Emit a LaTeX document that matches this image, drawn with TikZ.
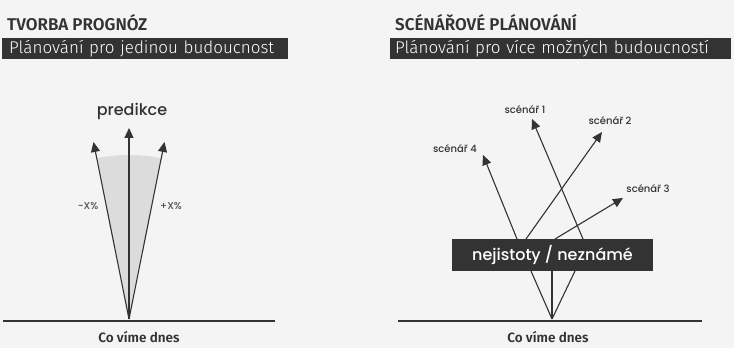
\documentclass[tikz,border=0pt]{standalone}
\usepackage{fontspec}
\usepackage{tikz}
\usetikzlibrary{arrows.meta,positioning}
\setmainfont{Fira Sans}
\newfontfamily\headfont{Fira Sans SemiBold}
\newfontfamily\thinfont{Fira Sans Light}
\newfontfamily\geofont{Poppins Medium}
\definecolor{paper}{RGB}{244,244,244}
\definecolor{ink}{RGB}{51,51,51}
\definecolor{fancol}{RGB}{220,220,220}

\begin{document}
\begin{tikzpicture}[x=1pt,y=1pt,>={Triangle[length=10pt,width=9pt]},
  line/.style={draw=ink,line width=1.1pt},
  heading/.style={anchor=west,inner sep=0pt,text=ink,font=\headfont\fontsize{17}{17}\selectfont},
  tagbox/.style={fill=ink,text=white,anchor=west,inner ysep=0pt,minimum height=21pt,
                 align=left,font=\thinfont\fontsize{17}{17}\selectfont},
  scen/.style={text=ink,inner sep=0pt,font=\geofont\fontsize{10}{10}\selectfont},
  base/.style={text=ink,inner sep=0pt,font=\headfont\fontsize{13.5}{13.5}\selectfont}]
  \fill[paper] (0,0) rectangle (734,348);
  \useasboundingbox (0,0) rectangle (734,348);

  % ---- left: forecasting
  \node[heading] (lhead) at (7,325) {TVORBA PROGNÓZ};
  \node[tagbox,text width=272pt,inner xsep=7pt] (ltag) at (2,299.5) {\mbox{Plánování pro jedinou budoucnost}};
  \coordinate (lo) at (129,29);
  \coordinate (lc) at (129,220);
  \coordinate (ll) at (93.5,206);
  \coordinate (lr) at (164.5,206);
  % the fan of tolerance
  \fill[fancol] (lo) -- ++(101.3:164) arc[start angle=101.3,end angle=78.7,radius=164] -- cycle;
  \foreach \t in {lc,ll,lr}
     \draw[line,->] (lo) -- (\t);
  \node[text=ink,inner sep=0pt,font=\geofont\fontsize{16}{16}\selectfont] (pred) at (132,237) {predikce};
  \node[scen,text=ink!85] (minus) at (88,142) {-X\%};
  \node[scen,text=ink!85] (plus) at (171,142) {+X\%};
  \coordinate (lbl) at (3,27);
  \coordinate (lbr) at (275,27);
  \draw[line] (lbl) -- (lbr);
  \node[base] (lnow) at (139,11) {Co víme dnes};

  % ---- right: scenario planning
  \node[heading] (rhead) at (395,325) {SCÉNÁŘOVÉ PLÁNOVÁNÍ};
  \node[tagbox,text width=331pt,inner xsep=5pt] (rtag) at (390,299.5) {\mbox{Plánování pro více možných budoucností}};
  \coordinate (ro) at (552,29);
  % the three rays under the box
  \foreach \x in {531,552,575}
     \draw[line] (ro) -- (\x,77);
  \node[fill=ink,text=white,minimum width=201pt,minimum height=32pt,inner sep=0pt,
        font=\geofont\fontsize{16}{16}\selectfont] (unc) at (552.5,93) {nejistoty / neznámé};
  % scenario tips
  \coordinate (t1) at (532,229);
  \coordinate (t2) at (602,216);
  \coordinate (t3) at (623,150);
  \coordinate (t4) at (483,193);
  \draw[line,->] (583,109) -- (t1);
  \draw[line,->] (526,109) -- (t2);
  \draw[line,->] (555,109) -- (t3);
  \draw[line,->] (517,109) -- (t4);
  \node[scen] (s1) at (525,238) {scénář 1};
  \node[scen] (s2) at (610,227) {scénář 2};
  \node[scen] (s3) at (648,159) {scénář 3};
  \node[scen] (s4) at (455,199) {scénář 4};
  \coordinate (rbl) at (398,27);
  \coordinate (rbr) at (702,27);
  \draw[line] (rbl) -- (rbr);
  \node[base] (rnow) at (548,11) {Co víme dnes};
\end{tikzpicture}
\end{document}
